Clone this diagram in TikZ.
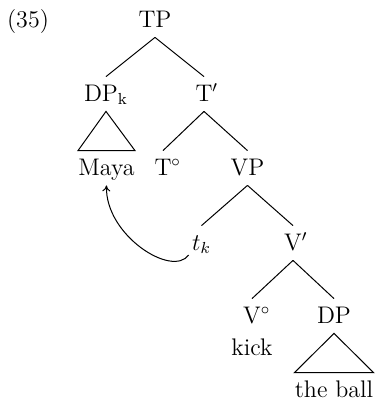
\documentclass[tikz,border=0pt]{standalone}
\usetikzlibrary{calc,arrows.meta}
\begin{document}
\begin{tikzpicture}[x=0.5pt,y=-0.5pt]
\tikzset{
  lbl/.style={anchor=base, inner xsep=0pt, inner ysep=3.5pt, text height=8.5pt, text depth=1.5pt, font=\fontsize{12}{14}\selectfont},
  branch/.style={line width=0.5pt},
  movearrow/.style={line width=0.5pt, -{To[length=3pt,width=4pt]}}
}
\useasboundingbox (0,0) rectangle (375,402);
\node[lbl] (num) at (28,27) {(35)};
\node[lbl] (TP) at (155,27) {TP};
\node[lbl] (DPk) at (106,101) {DP$_{\mathrm{k}}$};
\node[lbl] (Tbar) at (204,101) {T\rlap{$'$}};
\node[lbl] (Maya) at (106.5,175) {Maya};
\node[lbl] (Tzero) at (163,175) {T\rlap{$^\circ$}};
\node[lbl] (VP) at (247.5,175) {VP};
\node[lbl] (tk) at (201.5,250) {$t_k$};
\node[lbl] (Vbar) at (293,250) {V\rlap{$'$}};
\node[lbl] (Vzero) at (252,323) {V\rlap{$^\circ$}};
\node[lbl] (DP) at (334,323) {DP};
\node[lbl] (kick) at (252,355) {kick};
\node[lbl] (ball) at (334,397) {the ball};

\draw[branch] (TP.south) -- (DPk.north);
\draw[branch] (TP.south) -- (Tbar.north);
\draw[branch] (DPk.south) -- (Maya.north west) -- (Maya.north east) -- cycle;
\draw[branch] (Tbar.south) -- (Tzero.north);
\draw[branch] (Tbar.south) -- (VP.north);
\draw[branch] (VP.south) -- (tk.north);
\draw[branch] (VP.south) -- (Vbar.north);
\draw[branch] (Vbar.south) -- (Vzero.north);
\draw[branch] (Vbar.south) -- (DP.north);
\draw[branch] (DP.south) -- (ball.north west) -- (ball.north east) -- cycle;

\draw[movearrow] ($(tk.base west)+(-3,5)$) .. controls (172,278) and (105,235) .. (Maya.south);
\end{tikzpicture}
\end{document}
